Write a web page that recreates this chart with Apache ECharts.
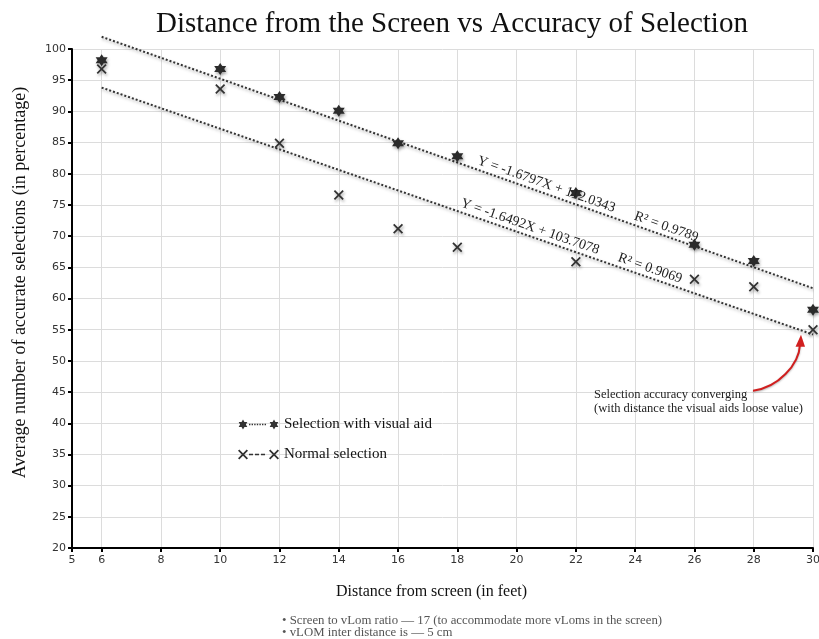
<!DOCTYPE html>
<html><head><meta charset="utf-8">
<script src="https://cdn.jsdelivr.net/npm/echarts@6/dist/echarts.min.js"></script>
<style>html,body{margin:0;padding:0;background:#fff}#c{width:819px;height:639px}</style>
</head><body><div id="c"></div>
<script>
const distances = [6, 10, 12, 14, 16, 18, 22, 26, 28, 30];
const visualAid = [98.2, 96.8, 92.3, 90.1, 84.9, 82.8, 76.9, 68.6, 66.0, 58.2];
const normalSel = [96.8, 93.6, 84.9, 76.6, 71.2, 68.2, 65.9, 63.1, 61.9, 55.0];
const xTicks = [5, 6, 8, 10, 12, 14, 16, 18, 20, 22, 24, 26, 28, 30];
const trendSlopes = [-1.6797, -1.6492];
const trendIntercepts = [112.0343, 103.7078];
const rSquared = [0.9789, 0.9069];
const seriesNames = ['Selection with visual aid', 'Normal selection'];
const footnotes = ['• Screen to vLom ratio — 17 (to accommodate more vLoms in the screen)', '• vLOM inter distance is — 5 cm'];
const annotation = ['Selection accuracy converging', '(with distance the visual aids loose value)'];

const SERIF = '"Liberation Serif", "DejaVu Serif", serif';
const SANS = '"DejaVu Sans", sans-serif';
const starPts = [[10,0],[12.89,5],[18.66,5],[15.77,10],[18.66,15],[12.89,15],[10,20],[7.11,15],[1.34,15],[4.23,10],[1.34,5],[7.11,5]];
const crossPts = [[2.5,0],[10,7.5],[17.5,0],[20,2.5],[12.5,10],[20,17.5],[17.5,20],[10,12.5],[2.5,20],[0,17.5],[7.5,10],[0,2.5]];
function poly(pts, dx) { return 'M' + pts.map(p => (p[0] + dx) + ' ' + p[1]).join('L') + 'Z'; }
function rect(x, y, w, h) { return 'M' + x + ' ' + y + 'L' + (x + w) + ' ' + y + 'L' + (x + w) + ' ' + (y + h) + 'L' + x + ' ' + (y + h) + 'Z'; }
const STAR = 'path://' + poly(starPts, 0);
const CROSS = 'path://' + poly(crossPts, 0);
function legendIcon(pts, dash, gap) {
  let d = poly(pts, 0) + poly(pts, 62);
  for (let x = 22; x + dash <= 60; x += dash + gap) d += rect(x, 8.6, dash, 2.8);
  return 'path://' + d;
}
const shadow = {shadowBlur: 3, shadowColor: 'rgba(0,0,0,0.35)', shadowOffsetX: 1, shadowOffsetY: 2};

function trendData(i) {
  const x0 = distances[0], x1 = distances[distances.length - 1];
  return [[x0, trendSlopes[i] * x0 + trendIntercepts[i]], [x1, trendSlopes[i] * x1 + trendIntercepts[i]]];
}

const chart = echarts.init(document.getElementById('c'), null, {renderer: 'canvas'});
const option = {
  animation: false,
  backgroundColor: '#fff',
  title: {
    text: 'Distance from the Screen vs Accuracy of Selection',
    left: 447, top: 5, textAlign: 'center',
    textStyle: {fontFamily: SERIF, fontSize: 29, fontWeight: 'normal', color: '#111'}
  },
  grid: {left: 72, right: 6, top: 49, bottom: 91, containLabel: false, outerBoundsMode: 'none'},
  xAxis: {
    type: 'value', min: 5, max: 30,
    name: 'Distance from screen (in feet)', nameLocation: 'middle', nameGap: 36,
    nameTextStyle: {fontFamily: SERIF, fontSize: 16, color: '#111', padding: [0, 22, 0, 0]},
    axisLine: {show: true, lineStyle: {color: '#000', width: 2}},
    axisTick: {show: true, customValues: xTicks, length: 4, lineStyle: {color: '#000', width: 2}},
    axisLabel: {customValues: xTicks, fontFamily: SANS, fontSize: 11, color: '#333', margin: 7},
    splitLine: {show: true, lineStyle: {color: '#dcdcdc', width: 1}}
  },
  yAxis: {
    type: 'value', min: 20, max: 100, interval: 5,
    name: 'Average number of accurate selections (in percentage)', nameLocation: 'middle', nameGap: 43,
    nameTextStyle: {fontFamily: SERIF, fontSize: 18, color: '#111', padding: [0, 0, 0, 32]},
    axisLine: {show: true, lineStyle: {color: '#000', width: 2}},
    axisTick: {show: true, length: 4, lineStyle: {color: '#000', width: 2}},
    axisLabel: {fontFamily: SANS, fontSize: 11, color: '#333', margin: 6},
    splitLine: {show: true, lineStyle: {color: '#dcdcdc', width: 1}}
  },
  legend: {
    orient: 'vertical', left: 233, top: 412, itemWidth: 41, itemHeight: 10, itemGap: 15,
    textStyle: {fontFamily: SERIF, fontSize: 15, color: '#111'},
    data: [
      {name: seriesNames[0], icon: legendIcon(starPts, 2.8, 2.4), itemStyle: {color: '#333'}},
      {name: seriesNames[1], icon: legendIcon(crossPts, 8, 4), itemStyle: {color: '#333'}}
    ]
  },
  series: [
    {
      name: seriesNames[0], type: 'line', symbol: STAR, symbolSize: 12,
      data: distances.map((d, i) => [d, visualAid[i]]),
      lineStyle: {opacity: 0, width: 0},
      itemStyle: Object.assign({color: '#2b2b2b'}, shadow), z: 5
    },
    {
      name: seriesNames[1], type: 'line', symbol: CROSS, symbolSize: 10,
      data: distances.map((d, i) => [d, normalSel[i]]),
      lineStyle: {opacity: 0, width: 0},
      itemStyle: Object.assign({color: '#333'}, shadow), z: 5
    },
    {
      name: 'trend1', type: 'line', symbol: 'none', data: trendData(0), silent: true, clip: false,
      lineStyle: Object.assign({color: '#333', width: 2, type: [2, 2]}, shadow), z: 3
    },
    {
      name: 'trend2', type: 'line', symbol: 'none', data: trendData(1), silent: true, clip: false,
      lineStyle: Object.assign({color: '#333', width: 2, type: [2, 2]}, shadow), z: 3
    }
  ]
};
chart.setOption(option);

function onLine(i, x) { return chart.convertToPixel({gridIndex: 0}, [x, trendSlopes[i] * x + trendIntercepts[i]]); }
function lineAngle(i) {
  const d = trendData(i);
  const a = chart.convertToPixel({gridIndex: 0}, d[0]);
  const b = chart.convertToPixel({gridIndex: 0}, d[1]);
  return Math.atan2(b[1] - a[1], b[0] - a[0]);
}
const labelSpots = [[20.9, 24.95], [20.35, 24.4]];
const graphics = [];
for (let i = 0; i < 2; i++) {
  const ang = lineAngle(i);
  const texts = ['Y = ' + trendSlopes[i].toFixed(4) + 'X + ' + trendIntercepts[i].toFixed(4), 'R² = ' + rSquared[i].toFixed(4)];
  for (let k = 0; k < 2; k++) {
    const p = onLine(i, labelSpots[i][k]);
    graphics.push({
      type: 'text', x: p[0] + 2 * Math.sin(ang), y: p[1] - 2 * Math.cos(ang), rotation: -ang, z: 10,
      style: {text: texts[k], fill: '#222', font: '14px ' + SERIF, textAlign: 'center', textVerticalAlign: 'bottom'}
    });
  }
}
const tipPt = chart.convertToPixel({gridIndex: 0}, [distances[9], normalSel[9]]);
const tip = [tipPt[0] - 13, tipPt[1] + 5];
const start = [tip[0] - 47, tip[1] + 56];
graphics.push({
  type: 'bezierCurve', z: 10,
  shape: {x1: start[0], y1: start[1], cpx1: start[0] + 25, cpy1: start[1] - 3, cpx2: tip[0] - 1, cpy2: tip[1] + 30, x2: tip[0], y2: tip[1] + 10},
  style: {stroke: '#d11f1f', lineWidth: 2, fill: null, shadowBlur: 2, shadowColor: 'rgba(0,0,0,0.3)', shadowOffsetY: 1}
});
graphics.push({
  type: 'polygon', z: 10,
  shape: {points: [[tip[0] + 1, tip[1]], [tip[0] - 4.5, tip[1] + 12], [tip[0] + 5, tip[1] + 12]]},
  style: {fill: '#d11f1f'}
});
graphics.push({
  type: 'text', left: 594, top: 387, z: 10,
  style: {text: annotation[0] + '\n' + annotation[1], fill: '#222', font: '12.5px ' + SERIF, lineHeight: 14.5}
});
graphics.push({
  type: 'text', left: 282, top: 614, z: 10,
  style: {text: footnotes.join('\n'), fill: '#555', font: '12.8px ' + SERIF, lineHeight: 12}
});
chart.setOption({graphic: graphics});
</script></body></html>
